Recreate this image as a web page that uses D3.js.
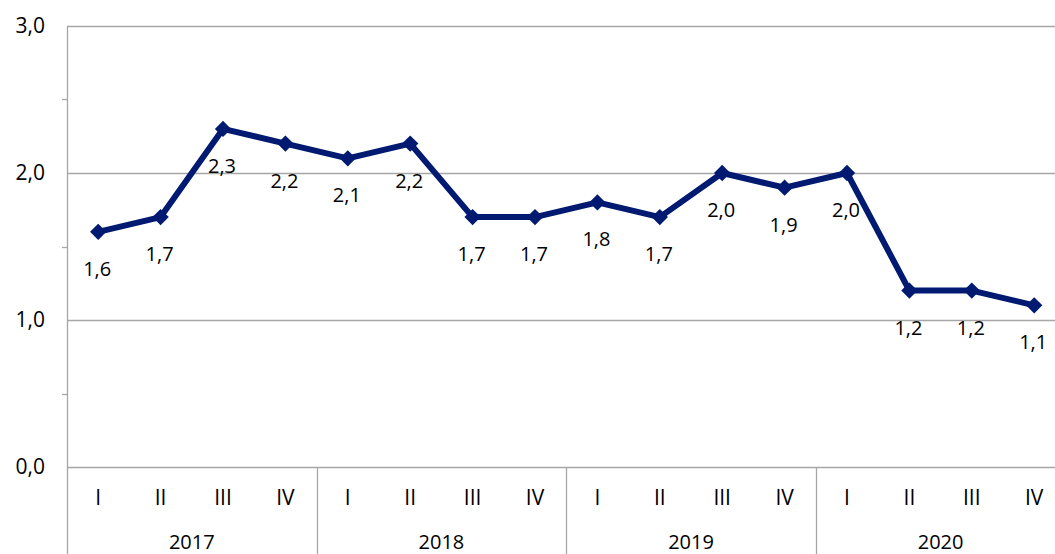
<!DOCTYPE html>
<html>
<head>
<meta charset="utf-8">
<script src="https://cdn.jsdelivr.net/npm/d3@7"></script>
<style>
  body { margin: 0; background: #fff; }
  svg text { font-family: "Open Sans", "Noto Sans", sans-serif; fill: #000; }
</style>
</head>
<body>
<div id="chart"></div>
<script>
// data
let years = ["2017", "2018", "2019", "2020"];
let quarters = ["I", "II", "III", "IV"];
let values = [1.6, 1.7, 2.3, 2.2, 2.1, 2.2, 1.7, 1.7, 1.8, 1.7, 2.0, 1.9, 2.0, 1.2, 1.2, 1.1];
let yTicks = [0, 1, 2, 3];
let yMinor = [0.5, 1.5, 2.5];

let W = 1055, H = 554;
let plotLeft = 67, plotTop = 26, plotBottom = 467;
let step = 62.4;

let svg = d3.select("#chart").append("svg").attr("width", W).attr("height", H);

// scales
let x = d3.scaleBand().domain(d3.range(values.length)).range([plotLeft, plotLeft + step * values.length]).padding(0);
let y = d3.scaleLinear().domain([0, 3]).range([plotBottom, plotTop]);
let fmt = v => d3.format(".1f")(v).replace(".", ",");

// gridlines
svg.selectAll(".grid").data(yTicks).enter().append("line")
    .attr("x1", plotLeft).attr("x2", W)
    .attr("y1", d => Math.round(y(d)) + 0.5).attr("y2", d => Math.round(y(d)) + 0.5)
    .style("stroke", "#a6a6a6").style("stroke-width", 1.3);

// minor ticks on y axis
svg.selectAll(".minor").data(yMinor).enter().append("line")
    .attr("x1", plotLeft - 5).attr("x2", plotLeft)
    .attr("y1", d => Math.round(y(d)) + 0.5).attr("y2", d => Math.round(y(d)) + 0.5)
    .style("stroke", "#a6a6a6").style("stroke-width", 1.3);

// y axis line
svg.append("line")
    .attr("x1", plotLeft + 0.5).attr("x2", plotLeft + 0.5).attr("y1", plotTop).attr("y2", H)
    .style("stroke", "#a6a6a6").style("stroke-width", 1.3);

// y labels
svg.selectAll(".ylab").data(yTicks).enter().append("text")
    .attr("x", 45).attr("y", d => y(d))
    .attr("dy", "0.35em")
    .attr("text-anchor", "end")
    .style("font-size", "21px")
    .text(d => fmt(d));

// year separators
svg.selectAll(".sep").data(years.slice(1)).enter().append("line")
    .attr("x1", (d, i) => Math.round(x((i + 1) * 4)) + 0.5)
    .attr("x2", (d, i) => Math.round(x((i + 1) * 4)) + 0.5)
    .attr("y1", plotBottom).attr("y2", H)
    .style("stroke", "#a6a6a6").style("stroke-width", 1.3);

// quarter labels
svg.selectAll(".qlab").data(values).enter().append("text")
    .attr("x", (d, i) => x(i) + x.bandwidth() / 2)
    .attr("y", 498).attr("dy", "0.35em")
    .attr("text-anchor", "middle")
    .style("font-size", "21px")
    .text((d, i) => quarters[i % 4]);

// year labels
svg.selectAll(".yrlab").data(years).enter().append("text")
    .attr("x", (d, i) => x(i * 4) + 2 * step)
    .attr("y", 542).attr("dy", "0.35em")
    .attr("text-anchor", "middle")
    .style("font-size", "20px")
    .text(d => d);

// line
let line = d3.line().x((d, i) => x(i) + x.bandwidth() / 2).y(d => y(d));
svg.append("path").datum(values)
    .attr("d", line)
    .attr("fill", "none")
    .style("stroke", "#001a72")
    .style("stroke-width", 6)
    .style("stroke-linejoin", "round");

// markers
svg.selectAll(".mark").data(values).enter().append("path")
    .attr("d", d3.symbol().type(d3.symbolDiamond2).size(170))
    .attr("transform", (d, i) => "translate(" + (x(i) + x.bandwidth() / 2) + "," + y(d) + ")")
    .attr("fill", "#001a72");

// data labels
svg.selectAll(".dlab").data(values).enter().append("text")
    .attr("x", (d, i) => x(i) + x.bandwidth() / 2 - 1)
    .attr("y", d => y(d) + 37).attr("dy", "0.35em")
    .attr("text-anchor", "middle")
    .style("font-size", "20px")
    .text(d => fmt(d));
</script>
</body>
</html>
